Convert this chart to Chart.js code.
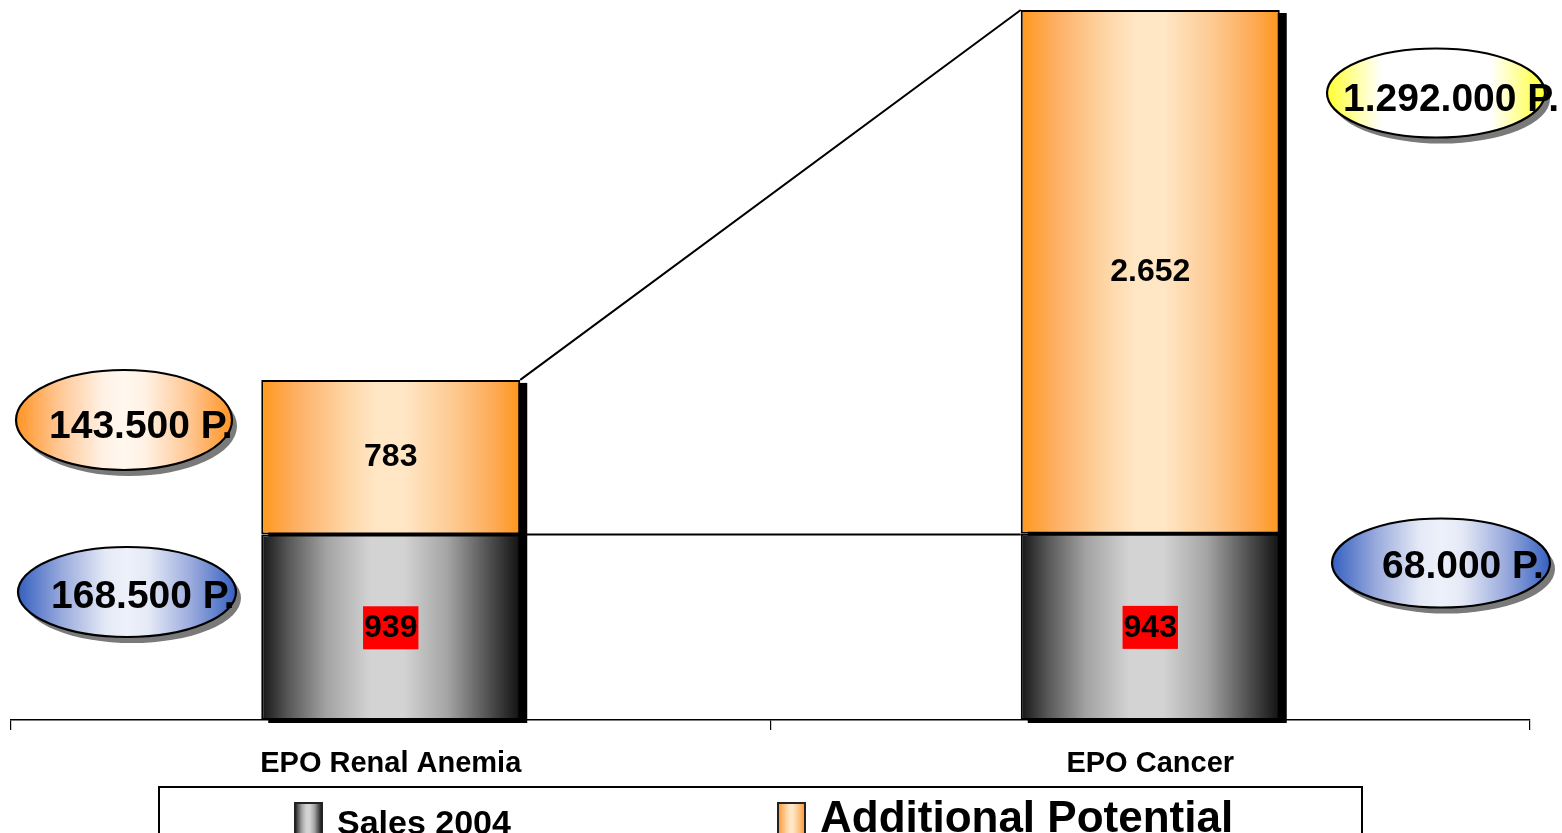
<!DOCTYPE html>
<html>
<head>
<meta charset="utf-8">
<script src="https://cdn.jsdelivr.net/npm/chart.js@4/dist/chart.umd.min.js"></script>
<style>
    html, body { margin: 0; padding: 0; background: #fff; overflow: hidden; }
    #wrap { width: 1562px; height: 833px; position: relative; }
</style>
</head>
<body>
<div id="wrap"><canvas id="potentialChart" width="1562" height="833"></canvas></div>
<script>
// Chart data
const categories = ['EPO Renal Anemia', 'EPO Cancer'];
const seriesNames = ['Sales 2004', 'Additional Potential'];
const sales2004 = [939, 943];
const additionalPotential = [783, 2652];
const yMax = 3600;

// Patient callouts (left column = renal, right column = cancer)
const calloutLabels = ['143.500 P.', '168.500 P.', '1.292.000 P.', '68.000 P.'];

const FONT = "'Liberation Sans', Arial, sans-serif";
const BAR_PCT = 0.341;

const grayStops = [[0, '#151515'], [0.1, '#555'], [0.25, '#a2a2a2'], [0.42, '#d3d3d3'], [0.55, '#d3d3d3'], [0.72, '#a4a4a4'], [0.87, '#555'], [1, '#111']];
const orangeStops = [[0, '#ff981c'], [0.14, '#fdb066'], [0.33, '#fed6a6'], [0.45, '#ffe7c6'], [0.55, '#ffe7c6'], [0.75, '#fdc88e'], [0.9, '#fdaa55'], [1, '#ff961a']];

const fmt = (n) => String(n).replace(/\B(?=(\d{3})+(?!\d))/g, '.');

const barGradient = (ctx, stops) => {
    const chart = ctx.chart;
    const xs = chart.scales.x;
    if (!chart.chartArea || !xs) return stops[0][1];
    const cx = xs.getPixelForValue(ctx.dataIndex);
    const w = (xs.width / categories.length) * BAR_PCT;
    const g = chart.ctx.createLinearGradient(cx - w / 2, 0, cx + w / 2, 0);
    stops.forEach(([o, c]) => g.addColorStop(o, c));
    return g;
};

const hGradient = (c, x0, x1, stops) => {
    const g = c.createLinearGradient(x0, 0, x1, 0);
    stops.forEach(([o, col]) => g.addColorStop(o, col));
    return g;
};

// shadows behind the stacked columns
const shadowPlugin = {
    id: 'colShadow',
    beforeDatasetsDraw(chart) {
        const c = chart.ctx;
        const bottom = chart.getDatasetMeta(0).data;
        const top = chart.getDatasetMeta(1).data;
        c.save();
        c.fillStyle = '#000';
        bottom.forEach((el, i) => {
            const t = top[i].y;
            c.fillRect(el.x - el.width / 2 + 7, t + 3, el.width, el.base - t);
        });
        c.restore();
    }
};

const calloutFills = {
    orange: [[0, '#ff9424'], [0.2, '#ffc794'], [0.4, '#fff1e4'], [0.5, '#fff8ef'], [0.6, '#fff1e4'], [0.8, '#ffc794'], [1, '#ff9424']],
    blue: [[0, '#3560c0'], [0.2, '#98a9dc'], [0.4, '#e4e9f6'], [0.5, '#eef1fa'], [0.6, '#e4e9f6'], [0.8, '#98a9dc'], [1, '#3560c0']],
    yellow: [[0, '#ffff30'], [0.15, '#ffffb0'], [0.25, '#ffffff'], [0.75, '#ffffff'], [0.85, '#ffffb0'], [1, '#ffff30']]
};

const annotationPlugin = {
    id: 'annotations',
    afterDatasetsDraw(chart) {
        const c = chart.ctx;
        const gray = chart.getDatasetMeta(0).data;
        const orange = chart.getDatasetMeta(1).data;

        // connector lines between the two columns
        const r = orange[0], k = orange[1];
        c.save();
        c.strokeStyle = '#000';
        c.lineWidth = 2;
        c.beginPath();
        c.moveTo(r.x + r.width / 2, r.y);
        c.lineTo(k.x - k.width / 2, k.y);
        c.moveTo(r.x + r.width / 2, gray[0].y);
        c.lineTo(k.x - k.width / 2, gray[0].y);
        c.stroke();

        // value labels
        c.font = `bold 32px ${FONT}`;
        c.textAlign = 'center';
        c.textBaseline = 'middle';
        gray.forEach((el, i) => {
            const y = (el.y + el.base) / 2;
            const txt = fmt(sales2004[i]);
            const w = c.measureText(txt).width + 2;
            c.fillStyle = '#ff0000';
            c.fillRect(el.x - w / 2, y - 21, w, 43);
            c.fillStyle = '#000';
            c.fillText(txt, el.x, y + 1);
        });
        orange.forEach((el, i) => {
            c.fillStyle = '#000';
            c.fillText(fmt(additionalPotential[i]), el.x, (el.y + el.base) / 2);
        });

        // patient callouts
        const boxes = [
            { cx: 124, cy: 420, rx: 108, ry: 50, fill: 'orange', tx: 49, ty: 438 },
            { cx: 127, cy: 592, rx: 109, ry: 45, fill: 'blue', tx: 51, ty: 608 },
            { cx: 1436, cy: 93, rx: 109, ry: 44.5, fill: 'yellow', tx: 1343, ty: 111 },
            { cx: 1441, cy: 563, rx: 109, ry: 44.5, fill: 'blue', tx: 1382, ty: 578 }
        ];
        boxes.forEach((b, i) => {
            c.fillStyle = '#7a7a7a';
            c.beginPath();
            c.ellipse(b.cx + 5, b.cy + 6, b.rx, b.ry, 0, 0, Math.PI * 2);
            c.fill();
            c.fillStyle = hGradient(c, b.cx - b.rx, b.cx + b.rx, calloutFills[b.fill]);
            c.beginPath();
            c.ellipse(b.cx, b.cy, b.rx, b.ry, 0, 0, Math.PI * 2);
            c.fill();
            c.lineWidth = 2.2;
            c.strokeStyle = '#000';
            c.stroke();
            c.fillStyle = '#000';
            c.font = `bold 39px ${FONT}`;
            c.textAlign = 'left';
            c.textBaseline = 'alphabetic';
            c.fillText(calloutLabels[i], b.tx, b.ty);
        });

        // legend box
        c.lineWidth = 2;
        c.strokeStyle = '#000';
        c.strokeRect(159, 787, 1203, 70);
        const items = [
            { x: 295, stops: grayStops, font: 34, tx: 337, ty: 834 },
            { x: 778, stops: orangeStops, font: 44, tx: 820, ty: 832 }
        ];
        items.forEach((it, i) => {
            c.fillStyle = hGradient(c, it.x, it.x + 27, it.stops);
            c.fillRect(it.x, 803, 27, 40);
            c.lineWidth = 2;
            c.strokeStyle = '#222';
            c.strokeRect(it.x, 803, 27, 40);
            c.fillStyle = '#000';
            c.font = `bold ${it.font}px ${FONT}`;
            c.fillText(chart.data.datasets[i].label, it.tx, it.ty);
        });
        c.restore();
    }
};

new Chart(document.getElementById('potentialChart'), {
    type: 'bar',
    data: {
        labels: categories,
        datasets: [
            {
                label: seriesNames[0],
                data: sales2004,
                backgroundColor: (ctx) => barGradient(ctx, grayStops),
                borderColor: '#000',
                borderWidth: 2,
                borderSkipped: false
            },
            {
                label: seriesNames[1],
                data: additionalPotential,
                backgroundColor: (ctx) => barGradient(ctx, orangeStops),
                borderColor: '#000',
                borderWidth: 2,
                borderSkipped: false
            }
        ]
    },
    options: {
        responsive: false,
        animation: false,
        devicePixelRatio: 1,
        layout: { padding: { top: 9, left: 11, right: 32, bottom: 0 } },
        datasets: { bar: { categoryPercentage: 1, barPercentage: BAR_PCT } },
        plugins: {
            legend: { display: false },
            tooltip: { enabled: false }
        },
        scales: {
            x: {
                stacked: true,
                offset: true,
                grid: { offset: true, drawOnChartArea: false, drawTicks: true, tickLength: 10, color: '#000', lineWidth: 1.2 },
                border: { display: true, color: '#000', width: 1.5 },
                ticks: {
                    color: '#000',
                    font: { family: FONT, size: 29, weight: 'bold' },
                    padding: 17,
                    maxRotation: 0,
                    autoSkip: false
                },
                afterFit: (scale) => { scale.height = 113; }
            },
            y: {
                stacked: true,
                display: false,
                min: 0,
                max: yMax
            }
        }
    },
    plugins: [shadowPlugin, annotationPlugin]
});
</script>
</body>
</html>
